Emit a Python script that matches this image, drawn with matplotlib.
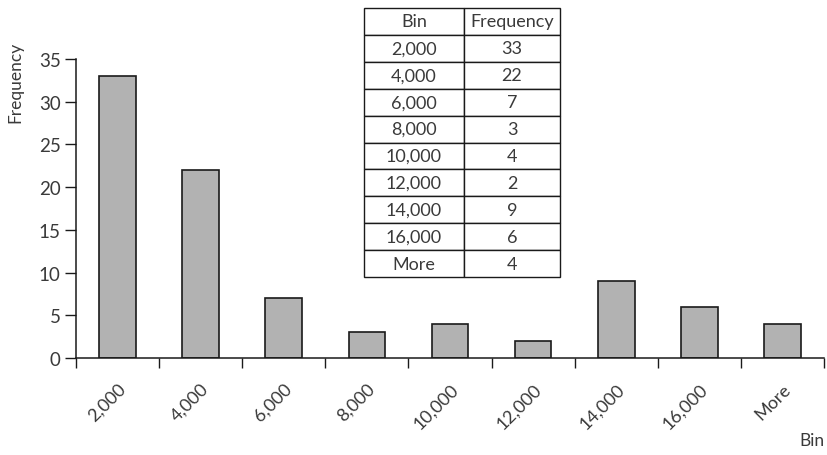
import matplotlib
matplotlib.use("Agg")
import matplotlib.pyplot as plt

bins = ["2,000", "4,000", "6,000", "8,000", "10,000", "12,000", "14,000", "16,000", "More"]
frequency = [33, 22, 7, 3, 4, 2, 9, 6, 4]
y_ticks = [0, 5, 10, 15, 20, 25, 30, 35]

plt.rcParams["font.family"] = ["Lato", "DejaVu Sans"]
text_color = "#3a3a3a"

fig = plt.figure(figsize=(8.28, 4.56), dpi=100)
ax = fig.add_axes([76 / 828, 1 - 359 / 456, 748 / 828, 299 / 456])

x = list(range(len(bins)))
ax.bar(x, frequency, width=0.44, color="#b2b2b2", edgecolor="#1a1a1a", linewidth=1.2)

ax.set_xlim(-0.5, len(bins) - 0.5)
ax.set_ylim(0, 35)
ax.set_yticks(y_ticks)
ax.set_yticklabels([str(v) for v in y_ticks], fontsize=13.5, color=text_color)

# x ticks sit on the category boundaries, labels at category centres
ax.set_xticks([i - 0.5 for i in range(len(bins) + 1)])
ax.set_xticklabels([])
ax.set_xticks(x, minor=True)
ax.set_xticklabels(bins, minor=True, rotation=45, ha="right", va="top",
                   rotation_mode="anchor", fontsize=13, color=text_color)
ax.tick_params(axis="x", which="minor", length=0, pad=16)
ax.tick_params(axis="x", which="major", direction="out", length=7, width=1, color="#1a1a1a")
ax.tick_params(axis="y", direction="out", length=8, width=1, color="#1a1a1a", pad=3)

for side in ("top", "right"):
    ax.spines[side].set_visible(False)
for side in ("left", "bottom"):
    ax.spines[side].set_linewidth(1.1)
    ax.spines[side].set_color("#1a1a1a")

fig.text(15 / 828, 1 - 82 / 456, "Frequency", rotation=90, ha="center", va="center",
         fontsize=12.5, color=text_color)
fig.text(812 / 828, 1 - 441 / 456, "Bin", ha="center", va="center",
         fontsize=12.5, color=text_color)

# frequency table drawn over the plot
cells = [[b, str(f)] for b, f in zip(bins, frequency)]
tbl = ax.table(cellText=cells, colLabels=["Bin", "Frequency"], cellLoc="center",
               colWidths=[100 / 196, 96 / 196],
               bbox=[(364 - 76) / 748, (359 - 278) / 299, 196 / 748, 269 / 299])
tbl.auto_set_font_size(False)
for (r, c), cell in tbl.get_celld().items():
    cell.set_edgecolor("#1a1a1a")
    cell.set_linewidth(1.0)
    cell.set_facecolor("white")
    cell.get_text().set_fontsize(13)
    cell.get_text().set_color(text_color)

fig.savefig("out.png", dpi=100)
